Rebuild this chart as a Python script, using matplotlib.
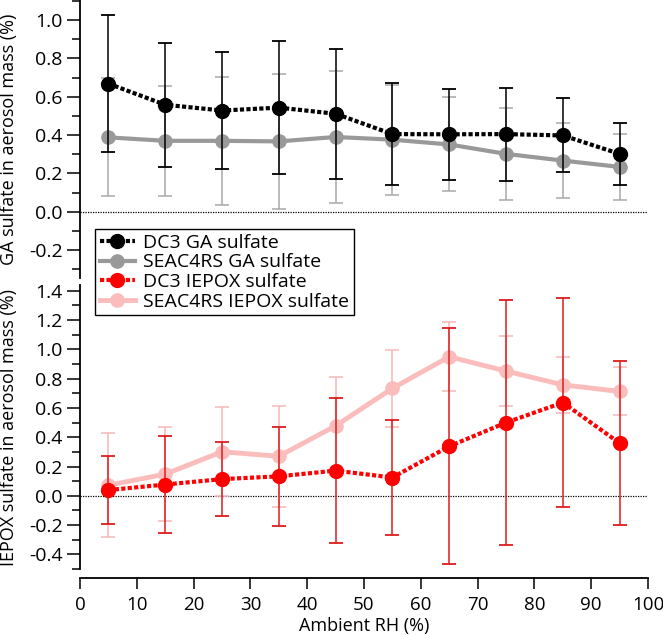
import matplotlib
matplotlib.use("Agg")
import matplotlib.pyplot as plt
from matplotlib.lines import Line2D
from matplotlib.ticker import MultipleLocator, FormatStrFormatter

plt.rcParams['font.family'] = ['Open Sans', 'DejaVu Sans']

rh = [5, 15, 25, 35, 45, 55, 65, 75, 85, 95]
dc3_ga = [0.668, 0.558, 0.528, 0.543, 0.511, 0.405, 0.404, 0.405, 0.398, 0.302]
dc3_ga_err = [0.357, 0.322, 0.307, 0.345, 0.338, 0.264, 0.238, 0.242, 0.193, 0.162]
seac_ga = [0.388, 0.370, 0.370, 0.367, 0.390, 0.376, 0.351, 0.302, 0.267, 0.234]
seac_ga_err = [0.308, 0.288, 0.334, 0.350, 0.345, 0.287, 0.245, 0.241, 0.194, 0.170]
dc3_iepox = [0.039, 0.077, 0.114, 0.133, 0.172, 0.125, 0.338, 0.500, 0.637, 0.360]
dc3_iepox_err = [0.232, 0.333, 0.253, 0.340, 0.495, 0.394, 0.805, 0.835, 0.714, 0.558]
seac_iepox = [0.072, 0.148, 0.301, 0.270, 0.478, 0.734, 0.950, 0.852, 0.758, 0.713]
seac_iepox_err = [0.354, 0.323, 0.305, 0.345, 0.335, 0.263, 0.237, 0.241, 0.190, 0.164]

labels = ["DC3 GA sulfate", "SEAC4RS GA sulfate", "DC3 IEPOX sulfate", "SEAC4RS IEPOX sulfate"]
top_label = "GA sulfate in aerosol mass (%)"
bot_label = "IEPOX sulfate in aerosol mass (%)"
x_label = "Ambient RH (%)"

W, H = 663, 635
fig = plt.figure(figsize=(W / 100, H / 100), dpi=100)
left = 80 / W
width = 568 / W
ax1 = fig.add_axes([left, 1 - 278 / H, width, 278 / H])
ax2 = fig.add_axes([left, 1 - 569 / H, width, (569 - 285) / H])

dots = (0, (1.0, 0.55))
FS = 13
TFS = 14

def style(ax, ylim):
    ax.set_xlim(0, 100)
    ax.set_ylim(*ylim)
    for s in ['top', 'right']:
        ax.spines[s].set_visible(False)
    ax.spines['left'].set_linewidth(1.3)
    ax.yaxis.set_major_locator(MultipleLocator(0.2))
    ax.yaxis.set_minor_locator(MultipleLocator(0.1))
    ax.yaxis.set_major_formatter(FormatStrFormatter('%.1f'))
    ax.tick_params(axis='y', which='major', length=9.5, width=1.1, labelsize=TFS, pad=3)
    ax.tick_params(axis='y', which='minor', length=6, width=1.1)
    ax.axhline(0, color='black', lw=0.9, ls=(0, (1, 1)), zorder=1)

# top panel
style(ax1, (-0.345, 1.104))
ax1.spines['bottom'].set_visible(False)
ax1.tick_params(axis='x', which='both', bottom=False, labelbottom=False)
ax1.errorbar(rh, seac_ga, yerr=seac_ga_err, fmt='none', ecolor='#a8a8a8', elinewidth=1.1,
             capsize=5, capthick=1.1, zorder=2)
ax1.plot(rh, seac_ga, color='#999999', lw=3, marker='o', ms=9.5, zorder=3)
ax1.errorbar(rh, dc3_ga, yerr=dc3_ga_err, fmt='none', ecolor='black', elinewidth=1.1,
             capsize=5, capthick=1.3, zorder=4)
ax1.plot(rh, dc3_ga, color='black', lw=3, ls=dots, marker='o', ms=10, zorder=5)

# bottom panel
style(ax2, (-0.5, 1.44))
ax2.spines['bottom'].set_position(('outward', 6.5))
ax2.spines['bottom'].set_linewidth(1.3)
ax2.xaxis.set_major_locator(MultipleLocator(10))
ax2.tick_params(axis='x', which='major', length=8, width=1.1, labelsize=13.5, pad=5)
ax2.errorbar(rh, seac_iepox, yerr=seac_iepox_err, fmt='none', ecolor='#f5b8b8', elinewidth=1.1,
             capsize=5, capthick=1.1, zorder=2)
ax2.plot(rh, seac_iepox, color='#fbbcbc', lw=3.5, marker='o', ms=9.5, zorder=3)
ax2.errorbar(rh, dc3_iepox, yerr=dc3_iepox_err, fmt='none', ecolor='#dd1c1c', elinewidth=1.1,
             capsize=5, capthick=1.3, zorder=4)
ax2.plot(rh, dc3_iepox, color='#ff0000', lw=3, ls=dots, marker='o', ms=10, zorder=5)
ax2.set_xlabel(x_label, fontsize=FS, labelpad=2)

fig.text(9 / W, 1 - 139 / H, top_label, rotation=90, ha='center', va='center', fontsize=FS)
fig.text(9 / W, 1 - 427 / H, bot_label, rotation=90, ha='center', va='center', fontsize=FS)

handles = [
    Line2D([], [], color='black', lw=3, ls=dots, marker='o', ms=10),
    Line2D([], [], color='#999999', lw=3, marker='o', ms=9.5),
    Line2D([], [], color='#ff0000', lw=3, ls=dots, marker='o', ms=10),
    Line2D([], [], color='#fbbcbc', lw=3.5, marker='o', ms=9.5),
]
leg = fig.legend(handles, labels, loc='upper left', bbox_to_anchor=(95 / W, 1 - 229 / H),
                 bbox_transform=fig.transFigure, fontsize=TFS, frameon=True, fancybox=False,
                 framealpha=1, edgecolor='black', handlelength=1.8, handletextpad=0.4,
                 labelspacing=0.08, borderpad=0.25, borderaxespad=0)
leg.get_frame().set_linewidth(1.0)

fig.savefig('out.png', dpi=100)
